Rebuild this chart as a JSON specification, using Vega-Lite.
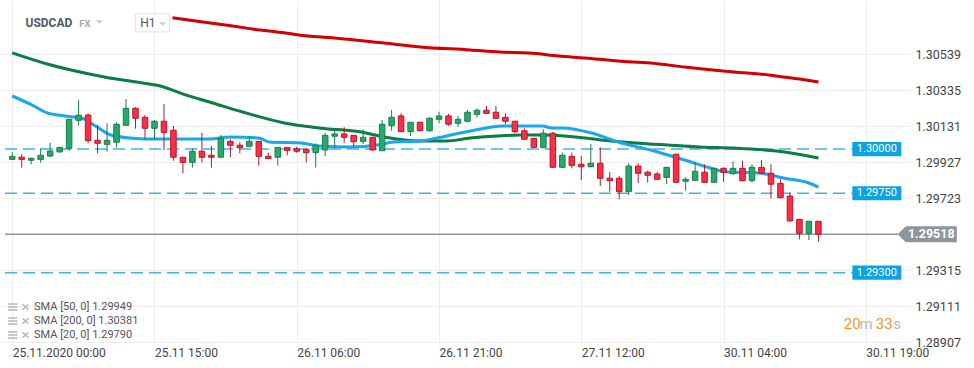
{
  "$schema": "https://vega.github.io/schema/vega-lite/v6.json",
  "width": 910,
  "height": 345,
  "autosize": {"type": "none"},
  "padding": {"left": 0, "top": 0, "right": 64, "bottom": 23},
  "background": "#ffffff",
  "config": {"view": {"stroke": null}, "font": "Roboto"},
  "resolve": {"scale": {"color": "independent"}, "legend": {"color": "independent"}},
  "datasets": {
    "candles": [
      {"i":0,"o":1.29942,"h":1.29982,"l":1.29938,"c":1.29959},
      {"i":1,"o":1.29954,"h":1.29971,"l":1.29895,"c":1.29942},
      {"i":2,"o":1.29937,"h":1.29951,"l":1.29914,"c":1.29948},
      {"i":3,"o":1.29942,"h":1.30005,"l":1.29923,"c":1.29965},
      {"i":4,"o":1.29961,"h":1.30036,"l":1.29954,"c":1.29989},
      {"i":5,"o":1.29984,"h":1.30012,"l":1.29982,"c":1.30010},
      {"i":6,"o":1.30005,"h":1.30169,"l":1.29991,"c":1.30169},
      {"i":7,"o":1.30163,"h":1.30278,"l":1.30133,"c":1.30192},
      {"i":8,"o":1.30193,"h":1.30203,"l":1.30033,"c":1.30048},
      {"i":9,"o":1.30050,"h":1.30137,"l":1.29976,"c":1.30033},
      {"i":10,"o":1.30027,"h":1.30146,"l":1.29985,"c":1.30050},
      {"i":11,"o":1.30039,"h":1.30152,"l":1.30008,"c":1.30141},
      {"i":12,"o":1.30135,"h":1.30284,"l":1.30132,"c":1.30231},
      {"i":13,"o":1.30231,"h":1.30237,"l":1.30116,"c":1.30175},
      {"i":14,"o":1.30180,"h":1.30193,"l":1.30056,"c":1.30118},
      {"i":15,"o":1.30118,"h":1.30165,"l":1.30056,"c":1.30158},
      {"i":16,"o":1.30158,"h":1.30256,"l":1.29995,"c":1.30095},
      {"i":17,"o":1.30107,"h":1.30131,"l":1.29934,"c":1.29954},
      {"i":18,"o":1.29954,"h":1.29956,"l":1.29863,"c":1.29925},
      {"i":19,"o":1.29925,"h":1.30005,"l":1.29895,"c":1.29988},
      {"i":20,"o":1.29988,"h":1.30093,"l":1.29925,"c":1.29954},
      {"i":21,"o":1.29965,"h":1.30018,"l":1.29895,"c":1.29954},
      {"i":22,"o":1.29954,"h":1.30080,"l":1.29952,"c":1.30061},
      {"i":23,"o":1.30044,"h":1.30056,"l":1.29954,"c":1.30022},
      {"i":24,"o":1.30022,"h":1.30040,"l":1.29976,"c":1.30008},
      {"i":25,"o":1.30016,"h":1.30073,"l":1.30014,"c":1.30044},
      {"i":26,"o":1.30044,"h":1.30046,"l":1.29906,"c":1.29959},
      {"i":27,"o":1.29959,"h":1.29980,"l":1.29944,"c":1.29946},
      {"i":28,"o":1.29954,"h":1.30012,"l":1.29906,"c":1.30010},
      {"i":29,"o":1.30010,"h":1.30012,"l":1.29965,"c":1.29993},
      {"i":30,"o":1.30002,"h":1.30014,"l":1.29980,"c":1.29988},
      {"i":31,"o":1.29999,"h":1.30008,"l":1.29925,"c":1.29980},
      {"i":32,"o":1.29980,"h":1.30033,"l":1.29895,"c":1.30022},
      {"i":33,"o":1.29995,"h":1.30093,"l":1.29961,"c":1.30078},
      {"i":34,"o":1.30073,"h":1.30104,"l":1.30005,"c":1.30086},
      {"i":35,"o":1.30086,"h":1.30124,"l":1.30036,"c":1.30067},
      {"i":36,"o":1.30078,"h":1.30080,"l":1.30014,"c":1.30042},
      {"i":37,"o":1.30044,"h":1.30112,"l":1.30029,"c":1.30067},
      {"i":38,"o":1.30067,"h":1.30069,"l":1.29991,"c":1.29995},
      {"i":39,"o":1.29991,"h":1.30165,"l":1.29989,"c":1.30141},
      {"i":40,"o":1.30133,"h":1.30222,"l":1.30104,"c":1.30180},
      {"i":41,"o":1.30188,"h":1.30203,"l":1.30097,"c":1.30099},
      {"i":42,"o":1.30099,"h":1.30154,"l":1.30074,"c":1.30152},
      {"i":43,"o":1.30152,"h":1.30154,"l":1.30102,"c":1.30104},
      {"i":44,"o":1.30104,"h":1.30180,"l":1.30099,"c":1.30175},
      {"i":45,"o":1.30169,"h":1.30212,"l":1.30146,"c":1.30188},
      {"i":46,"o":1.30188,"h":1.30199,"l":1.30133,"c":1.30141},
      {"i":47,"o":1.30146,"h":1.30188,"l":1.30127,"c":1.30169},
      {"i":48,"o":1.30158,"h":1.30222,"l":1.30152,"c":1.30209},
      {"i":49,"o":1.30197,"h":1.30231,"l":1.30178,"c":1.30220},
      {"i":50,"o":1.30220,"h":1.30244,"l":1.30201,"c":1.30203},
      {"i":51,"o":1.30209,"h":1.30244,"l":1.30173,"c":1.30175},
      {"i":52,"o":1.30180,"h":1.30203,"l":1.30141,"c":1.30158},
      {"i":53,"o":1.30158,"h":1.30160,"l":1.30090,"c":1.30099},
      {"i":54,"o":1.30104,"h":1.30118,"l":1.30054,"c":1.30056},
      {"i":55,"o":1.30061,"h":1.30063,"l":1.30008,"c":1.30010},
      {"i":56,"o":1.30008,"h":1.30112,"l":1.30006,"c":1.30090},
      {"i":57,"o":1.30090,"h":1.30097,"l":1.29895,"c":1.29897},
      {"i":58,"o":1.29897,"h":1.29980,"l":1.29891,"c":1.29965},
      {"i":59,"o":1.29959,"h":1.29980,"l":1.29891,"c":1.29908},
      {"i":60,"o":1.29914,"h":1.29961,"l":1.29825,"c":1.29900},
      {"i":61,"o":1.29900,"h":1.30029,"l":1.29897,"c":1.29920},
      {"i":62,"o":1.29920,"h":1.30010,"l":1.29791,"c":1.29835},
      {"i":63,"o":1.29835,"h":1.29870,"l":1.29759,"c":1.29821},
      {"i":64,"o":1.29835,"h":1.29848,"l":1.29716,"c":1.29759},
      {"i":65,"o":1.29759,"h":1.29920,"l":1.29740,"c":1.29904},
      {"i":66,"o":1.29904,"h":1.29920,"l":1.29808,"c":1.29863},
      {"i":67,"o":1.29869,"h":1.29878,"l":1.29810,"c":1.29852},
      {"i":68,"o":1.29859,"h":1.29872,"l":1.29825,"c":1.29829},
      {"i":69,"o":1.29840,"h":1.29899,"l":1.29801,"c":1.29897},
      {"i":70,"o":1.29971,"h":1.29973,"l":1.29810,"c":1.29812},
      {"i":71,"o":1.29818,"h":1.29840,"l":1.29764,"c":1.29829},
      {"i":72,"o":1.29823,"h":1.29929,"l":1.29821,"c":1.29874},
      {"i":73,"o":1.29869,"h":1.29914,"l":1.29810,"c":1.29812},
      {"i":74,"o":1.29812,"h":1.29893,"l":1.29810,"c":1.29891},
      {"i":75,"o":1.29891,"h":1.29897,"l":1.29815,"c":1.29869},
      {"i":76,"o":1.29863,"h":1.29929,"l":1.29853,"c":1.29891},
      {"i":77,"o":1.29891,"h":1.29934,"l":1.29819,"c":1.29821},
      {"i":78,"o":1.29821,"h":1.29914,"l":1.29810,"c":1.29897},
      {"i":79,"o":1.29897,"h":1.29938,"l":1.29861,"c":1.29863},
      {"i":80,"o":1.29863,"h":1.29914,"l":1.29721,"c":1.29801},
      {"i":81,"o":1.29806,"h":1.29829,"l":1.29721,"c":1.29725},
      {"i":82,"o":1.29734,"h":1.29755,"l":1.29591,"c":1.29593},
      {"i":83,"o":1.29602,"h":1.29604,"l":1.29489,"c":1.29523},
      {"i":84,"o":1.29523,"h":1.29593,"l":1.29485,"c":1.29591},
      {"i":85,"o":1.29591,"h":1.29593,"l":1.29475,"c":1.29518}
    ],
    "sma": [
      {"name":"SMA [200, 0] 1.30381","i":16.9,"v":1.30745},
      {"name":"SMA [200, 0] 1.30381","i":20.1,"v":1.30720},
      {"name":"SMA [200, 0] 1.30381","i":23.2,"v":1.30698},
      {"name":"SMA [200, 0] 1.30381","i":25.3,"v":1.30681},
      {"name":"SMA [200, 0] 1.30381","i":28.8,"v":1.30658},
      {"name":"SMA [200, 0] 1.30381","i":30.2,"v":1.30647},
      {"name":"SMA [200, 0] 1.30381","i":34.0,"v":1.30630},
      {"name":"SMA [200, 0] 1.30381","i":39.2,"v":1.30601},
      {"name":"SMA [200, 0] 1.30381","i":43.0,"v":1.30579},
      {"name":"SMA [200, 0] 1.30381","i":48.3,"v":1.30562},
      {"name":"SMA [200, 0] 1.30381","i":51.4,"v":1.30550},
      {"name":"SMA [200, 0] 1.30381","i":54.5,"v":1.30545},
      {"name":"SMA [200, 0] 1.30381","i":57.6,"v":1.30528},
      {"name":"SMA [200, 0] 1.30381","i":60.4,"v":1.30516},
      {"name":"SMA [200, 0] 1.30381","i":63.9,"v":1.30499},
      {"name":"SMA [200, 0] 1.30381","i":67.3,"v":1.30488},
      {"name":"SMA [200, 0] 1.30381","i":70.9,"v":1.30465},
      {"name":"SMA [200, 0] 1.30381","i":76.1,"v":1.30437},
      {"name":"SMA [200, 0] 1.30381","i":79.8,"v":1.30420},
      {"name":"SMA [200, 0] 1.30381","i":81.3,"v":1.30409},
      {"name":"SMA [200, 0] 1.30381","i":83.0,"v":1.30397},
      {"name":"SMA [200, 0] 1.30381","i":85,"v":1.30380},
      {"name":"SMA [50, 0] 1.29949","i":0,"v":1.30545},
      {"name":"SMA [50, 0] 1.29949","i":3.7,"v":1.30482},
      {"name":"SMA [50, 0] 1.29949","i":6.2,"v":1.30448},
      {"name":"SMA [50, 0] 1.29949","i":9.7,"v":1.30409},
      {"name":"SMA [50, 0] 1.29949","i":13.1,"v":1.30380},
      {"name":"SMA [50, 0] 1.29949","i":15.6,"v":1.30358},
      {"name":"SMA [50, 0] 1.29949","i":18.3,"v":1.30307},
      {"name":"SMA [50, 0] 1.29949","i":20.8,"v":1.30267},
      {"name":"SMA [50, 0] 1.29949","i":24.3,"v":1.30210},
      {"name":"SMA [50, 0] 1.29949","i":28.7,"v":1.30148},
      {"name":"SMA [50, 0] 1.29949","i":32.3,"v":1.30120},
      {"name":"SMA [50, 0] 1.29949","i":36.8,"v":1.30097},
      {"name":"SMA [50, 0] 1.29949","i":39.2,"v":1.30069},
      {"name":"SMA [50, 0] 1.29949","i":43.0,"v":1.30046},
      {"name":"SMA [50, 0] 1.29949","i":45.8,"v":1.30046},
      {"name":"SMA [50, 0] 1.29949","i":48.3,"v":1.30063},
      {"name":"SMA [50, 0] 1.29949","i":51.1,"v":1.30074},
      {"name":"SMA [50, 0] 1.29949","i":53.5,"v":1.30080},
      {"name":"SMA [50, 0] 1.29949","i":56.3,"v":1.30080},
      {"name":"SMA [50, 0] 1.29949","i":59.4,"v":1.30069},
      {"name":"SMA [50, 0] 1.29949","i":62.1,"v":1.30052},
      {"name":"SMA [50, 0] 1.29949","i":65.7,"v":1.30035},
      {"name":"SMA [50, 0] 1.29949","i":69.1,"v":1.30023},
      {"name":"SMA [50, 0] 1.29949","i":72.5,"v":1.30012},
      {"name":"SMA [50, 0] 1.29949","i":76.1,"v":1.30006},
      {"name":"SMA [50, 0] 1.29949","i":80.6,"v":1.29989},
      {"name":"SMA [50, 0] 1.29949","i":85,"v":1.29950},
      {"name":"SMA [20, 0] 1.29790","i":0,"v":1.30301},
      {"name":"SMA [20, 0] 1.29790","i":2.1,"v":1.30250},
      {"name":"SMA [20, 0] 1.29790","i":3.7,"v":1.30205},
      {"name":"SMA [20, 0] 1.29790","i":5.5,"v":1.30188},
      {"name":"SMA [20, 0] 1.29790","i":7.3,"v":1.30176},
      {"name":"SMA [20, 0] 1.29790","i":8.6,"v":1.30137},
      {"name":"SMA [20, 0] 1.29790","i":10.4,"v":1.30080},
      {"name":"SMA [20, 0] 1.29790","i":12.5,"v":1.30063},
      {"name":"SMA [20, 0] 1.29790","i":14.2,"v":1.30057},
      {"name":"SMA [20, 0] 1.29790","i":20.8,"v":1.30057},
      {"name":"SMA [20, 0] 1.29790","i":22.9,"v":1.30069},
      {"name":"SMA [20, 0] 1.29790","i":26.0,"v":1.30063},
      {"name":"SMA [20, 0] 1.29790","i":27.1,"v":1.30040},
      {"name":"SMA [20, 0] 1.29790","i":30.5,"v":1.30035},
      {"name":"SMA [20, 0] 1.29790","i":32.3,"v":1.30018},
      {"name":"SMA [20, 0] 1.29790","i":35.7,"v":1.30012},
      {"name":"SMA [20, 0] 1.29790","i":38.5,"v":1.30023},
      {"name":"SMA [20, 0] 1.29790","i":40.2,"v":1.30040},
      {"name":"SMA [20, 0] 1.29790","i":43.0,"v":1.30046},
      {"name":"SMA [20, 0] 1.29790","i":44.8,"v":1.30063},
      {"name":"SMA [20, 0] 1.29790","i":47.2,"v":1.30091},
      {"name":"SMA [20, 0] 1.29790","i":50.0,"v":1.30120},
      {"name":"SMA [20, 0] 1.29790","i":51.7,"v":1.30131},
      {"name":"SMA [20, 0] 1.29790","i":55.9,"v":1.30131},
      {"name":"SMA [20, 0] 1.29790","i":56.9,"v":1.30120},
      {"name":"SMA [20, 0] 1.29790","i":58.0,"v":1.30120},
      {"name":"SMA [20, 0] 1.29790","i":61.1,"v":1.30091},
      {"name":"SMA [20, 0] 1.29790","i":63.9,"v":1.30040},
      {"name":"SMA [20, 0] 1.29790","i":67.3,"v":1.29995},
      {"name":"SMA [20, 0] 1.29790","i":70.9,"v":1.29938},
      {"name":"SMA [20, 0] 1.29790","i":73.6,"v":1.29893},
      {"name":"SMA [20, 0] 1.29790","i":75.4,"v":1.29870},
      {"name":"SMA [20, 0] 1.29790","i":78.8,"v":1.29865},
      {"name":"SMA [20, 0] 1.29790","i":81.3,"v":1.29836},
      {"name":"SMA [20, 0] 1.29790","i":84.0,"v":1.29808},
      {"name":"SMA [20, 0] 1.29790","i":85,"v":1.29785}
    ],
    "levels": [
      {"level":1.30000,"label":"1.30000"},
      {"level":1.29750,"label":"1.29750"},
      {"level":1.29300,"label":"1.29300"}
    ],
    "last": [{"price":1.29518,"label":"1.29518"}]
  },
  "layer": [
    {
      "data": {"name": "levels"},
      "mark": {"type": "rule", "strokeDash": [12, 6], "color": "#3fb3ee", "strokeWidth": 1.5},
      "encoding": {
        "x": {"datum": -0.76, "type": "quantitative", "scale": {"domain": [-0.76, 94.13], "nice": false, "zero": false}},
        "x2": {"datum": 88.6},
        "y": {"field": "level", "type": "quantitative", "scale": {"domain": [1.2889, 1.30845], "nice": false, "zero": false}}
      }
    },
    {
      "data": {"name": "last"},
      "mark": {"type": "rule", "color": "#8f979d", "strokeWidth": 1.5},
      "encoding": {
        "x": {"datum": -0.76, "type": "quantitative"},
        "x2": {"datum": 93.4},
        "y": {"field": "price", "type": "quantitative"}
      }
    },
    {
      "data": {"name": "sma"},
      "mark": {"type": "line", "strokeWidth": 2, "interpolate": "monotone"},
      "encoding": {
        "x": {"field": "i", "type": "quantitative"},
        "y": {"field": "v", "type": "quantitative"},
        "color": {
          "field": "name", "type": "nominal",
          "scale": {"domain": ["SMA [50, 0] 1.29949", "SMA [200, 0] 1.30381", "SMA [20, 0] 1.29790"], "range": ["#b8b8b8", "#b8b8b8", "#b8b8b8"]},
          "legend": {
            "orient": "none", "legendX": 7, "legendY": 301, "direction": "vertical", "title": null,
            "labelFontSize": 11, "labelColor": "#555555", "labelFont": "Roboto", "labelOffset": 15,
            "rowPadding": 0, "padding": 0,
            "symbolType": "M-1,-0.6H0.9M-1,0H0.9M-1,0.6H0.9M1.9,-0.55L3.1,0.55M1.9,0.55L3.1,-0.55",
            "symbolSize": 100, "symbolStrokeWidth": 1.6
          }
        }
      }
    },
    {
      "data": {"name": "sma"},
      "mark": {"type": "line", "strokeWidth": 3, "interpolate": "monotone"},
      "encoding": {
        "x": {"field": "i", "type": "quantitative"},
        "y": {"field": "v", "type": "quantitative"},
        "color": {
          "field": "name", "type": "nominal",
          "scale": {"domain": ["SMA [50, 0] 1.29949", "SMA [200, 0] 1.30381", "SMA [20, 0] 1.29790"], "range": ["#0b7d45", "#d40000", "#17a8f0"]},
          "legend": null
        }
      }
    },
    {
      "data": {"name": "candles"},
      "mark": {"type": "rule", "strokeWidth": 1},
      "encoding": {
        "x": {"field": "i", "type": "quantitative"},
        "y": {"field": "l", "type": "quantitative"},
        "y2": {"field": "h"},
        "color": {"condition": {"test": "datum.c >= datum.o", "value": "#1b7c4c"}, "value": "#b5162c"}
      }
    },
    {
      "data": {"name": "candles"},
      "mark": {"type": "bar", "size": 5.5, "strokeWidth": 1},
      "encoding": {
        "x": {
          "field": "i", "type": "quantitative",
          "axis": {
            "values": [0, 15, 30, 45, 60, 75, 90],
            "labelExpr": "datum.value == 0 ? '25.11.2020  00:00' : datum.value == 15 ? '25.11 15:00' : datum.value == 30 ? '26.11 06:00' : datum.value == 45 ? '26.11 21:00' : datum.value == 60 ? '27.11 12:00' : datum.value == 75 ? '30.11 04:00' : '30.11 19:00'",
            "labelAlign": "left", "labelBaseline": "top", "labelPadding": 2, "labelFontSize": 12, "labelColor": "#444444",
            "labelFont": "Roboto", "labelFlush": false, "labelOverlap": false, "labelBound": false,
            "grid": true, "gridColor": "#ededed", "ticks": false, "domain": false, "title": null
          }
        },
        "y": {
          "field": "o", "type": "quantitative",
          "axis": {
            "orient": "right",
            "values": [1.28907, 1.29111, 1.29315, 1.29723, 1.29927, 1.30131, 1.30335, 1.30539],
            "format": ".5f", "labelPadding": 5, "labelFontSize": 12.5, "labelColor": "#444444", "labelFont": "Roboto",
            "labelFlush": false, "labelOverlap": false, "labelBound": false,
            "grid": true, "gridColor": "#ededed", "ticks": false, "domain": false, "title": null
          }
        },
        "y2": {"field": "c"},
        "fill": {"condition": {"test": "datum.c >= datum.o", "value": "#28a96c"}, "value": "#fc2e45"},
        "stroke": {"condition": {"test": "datum.c >= datum.o", "value": "#1b7c4c"}, "value": "#b5162c"}
      }
    },
    {
      "data": {"name": "levels"},
      "mark": {"type": "point", "shape": "M-1,-0.29L1,-0.29L1,0.29L-1,0.29Z", "filled": true, "size": 2401, "color": "#0ba3e6", "opacity": 1, "strokeWidth": 0},
      "encoding": {
        "x": {"datum": 91.16, "type": "quantitative"},
        "y": {"field": "level", "type": "quantitative"}
      }
    },
    {
      "data": {"name": "levels"},
      "mark": {"type": "text", "color": "#ffffff", "fontSize": 11, "font": "Roboto", "align": "center", "baseline": "middle"},
      "encoding": {
        "x": {"datum": 91.16, "type": "quantitative"},
        "y": {"field": "level", "type": "quantitative"},
        "text": {"field": "label"}
      }
    },
    {
      "data": {"name": "last"},
      "mark": {"type": "point", "shape": "M-1,0L-0.73,-0.27L1,-0.27L1,0.27L-0.73,0.27Z", "filled": true, "size": 3481, "color": "#8c969c", "opacity": 1, "strokeWidth": 0},
      "encoding": {
        "x": {"datum": 96.48, "type": "quantitative"},
        "y": {"field": "price", "type": "quantitative"}
      }
    },
    {
      "data": {"name": "last"},
      "mark": {"type": "text", "color": "#ffffff", "fontSize": 12.5, "fontWeight": "bold", "font": "Roboto", "align": "center", "baseline": "middle"},
      "encoding": {
        "x": {"datum": 96.9, "type": "quantitative"},
        "y": {"field": "price", "type": "quantitative"},
        "text": {"field": "label"}
      }
    },
    {
      "data": {"values": [{}]},
      "mark": {"type": "text", "text": "USDCAD", "color": "#4f5a65", "fontSize": 12, "fontWeight": "bold", "font": "Roboto", "align": "left", "baseline": "middle"},
      "encoding": {"x": {"datum": 1.4, "type": "quantitative"}, "y": {"datum": 1.30715, "type": "quantitative"}}
    },
    {
      "data": {"values": [{}]},
      "mark": {"type": "text", "text": "FX", "color": "#a2abb3", "fontSize": 9.5, "fontWeight": "bold", "font": "Roboto", "align": "left", "baseline": "middle"},
      "encoding": {"x": {"datum": 7.06, "type": "quantitative"}, "y": {"datum": 1.30709, "type": "quantitative"}}
    },
    {
      "data": {"values": [{}]},
      "mark": {"type": "point", "shape": "M-1,-0.5L1,-0.5L0,0.5Z", "filled": true, "size": 49, "color": "#c5cbd0", "opacity": 1},
      "encoding": {"x": {"datum": 9.2, "type": "quantitative"}, "y": {"datum": 1.30721, "type": "quantitative"}}
    },
    {
      "data": {"values": [{}]},
      "mark": {"type": "point", "shape": "M-1,-0.53L1,-0.53L1,0.53L-1,0.53Z", "filled": true, "fill": "#ffffff", "stroke": "#dde1e6", "strokeWidth": 1, "size": 1156, "opacity": 1},
      "encoding": {"x": {"datum": 14.78, "type": "quantitative"}, "y": {"datum": 1.30715, "type": "quantitative"}}
    },
    {
      "data": {"values": [{}]},
      "mark": {"type": "text", "text": "H1", "color": "#555555", "fontSize": 12, "font": "Roboto", "align": "left", "baseline": "middle"},
      "encoding": {"x": {"datum": 13.5, "type": "quantitative"}, "y": {"datum": 1.30715, "type": "quantitative"}}
    },
    {
      "data": {"values": [{}]},
      "mark": {"type": "point", "shape": "M-1,-0.5L1,-0.5L0,0.5Z", "filled": true, "size": 49, "color": "#c5cbd0", "opacity": 1},
      "encoding": {"x": {"datum": 15.85, "type": "quantitative"}, "y": {"datum": 1.30709, "type": "quantitative"}}
    },
    {
      "data": {"values": [{}]},
      "mark": {"type": "text", "text": "20", "color": "#f7941d", "fontSize": 15, "font": "Roboto", "align": "left", "baseline": "middle"},
      "encoding": {"x": {"datum": 87.67, "type": "quantitative"}, "y": {"datum": 1.29009, "type": "quantitative"}}
    },
    {
      "data": {"values": [{}]},
      "mark": {"type": "text", "text": "m", "color": "#b8b8b8", "fontSize": 15, "font": "Roboto", "align": "left", "baseline": "middle"},
      "encoding": {"x": {"datum": 89.33, "type": "quantitative"}, "y": {"datum": 1.29009, "type": "quantitative"}}
    },
    {
      "data": {"values": [{}]},
      "mark": {"type": "text", "text": "33", "color": "#f7941d", "fontSize": 15, "font": "Roboto", "align": "left", "baseline": "middle"},
      "encoding": {"x": {"datum": 91.05, "type": "quantitative"}, "y": {"datum": 1.29009, "type": "quantitative"}}
    },
    {
      "data": {"values": [{}]},
      "mark": {"type": "text", "text": "s", "color": "#b8b8b8", "fontSize": 15, "font": "Roboto", "align": "left", "baseline": "middle"},
      "encoding": {"x": {"datum": 92.88, "type": "quantitative"}, "y": {"datum": 1.29009, "type": "quantitative"}}
    }
  ]
}
